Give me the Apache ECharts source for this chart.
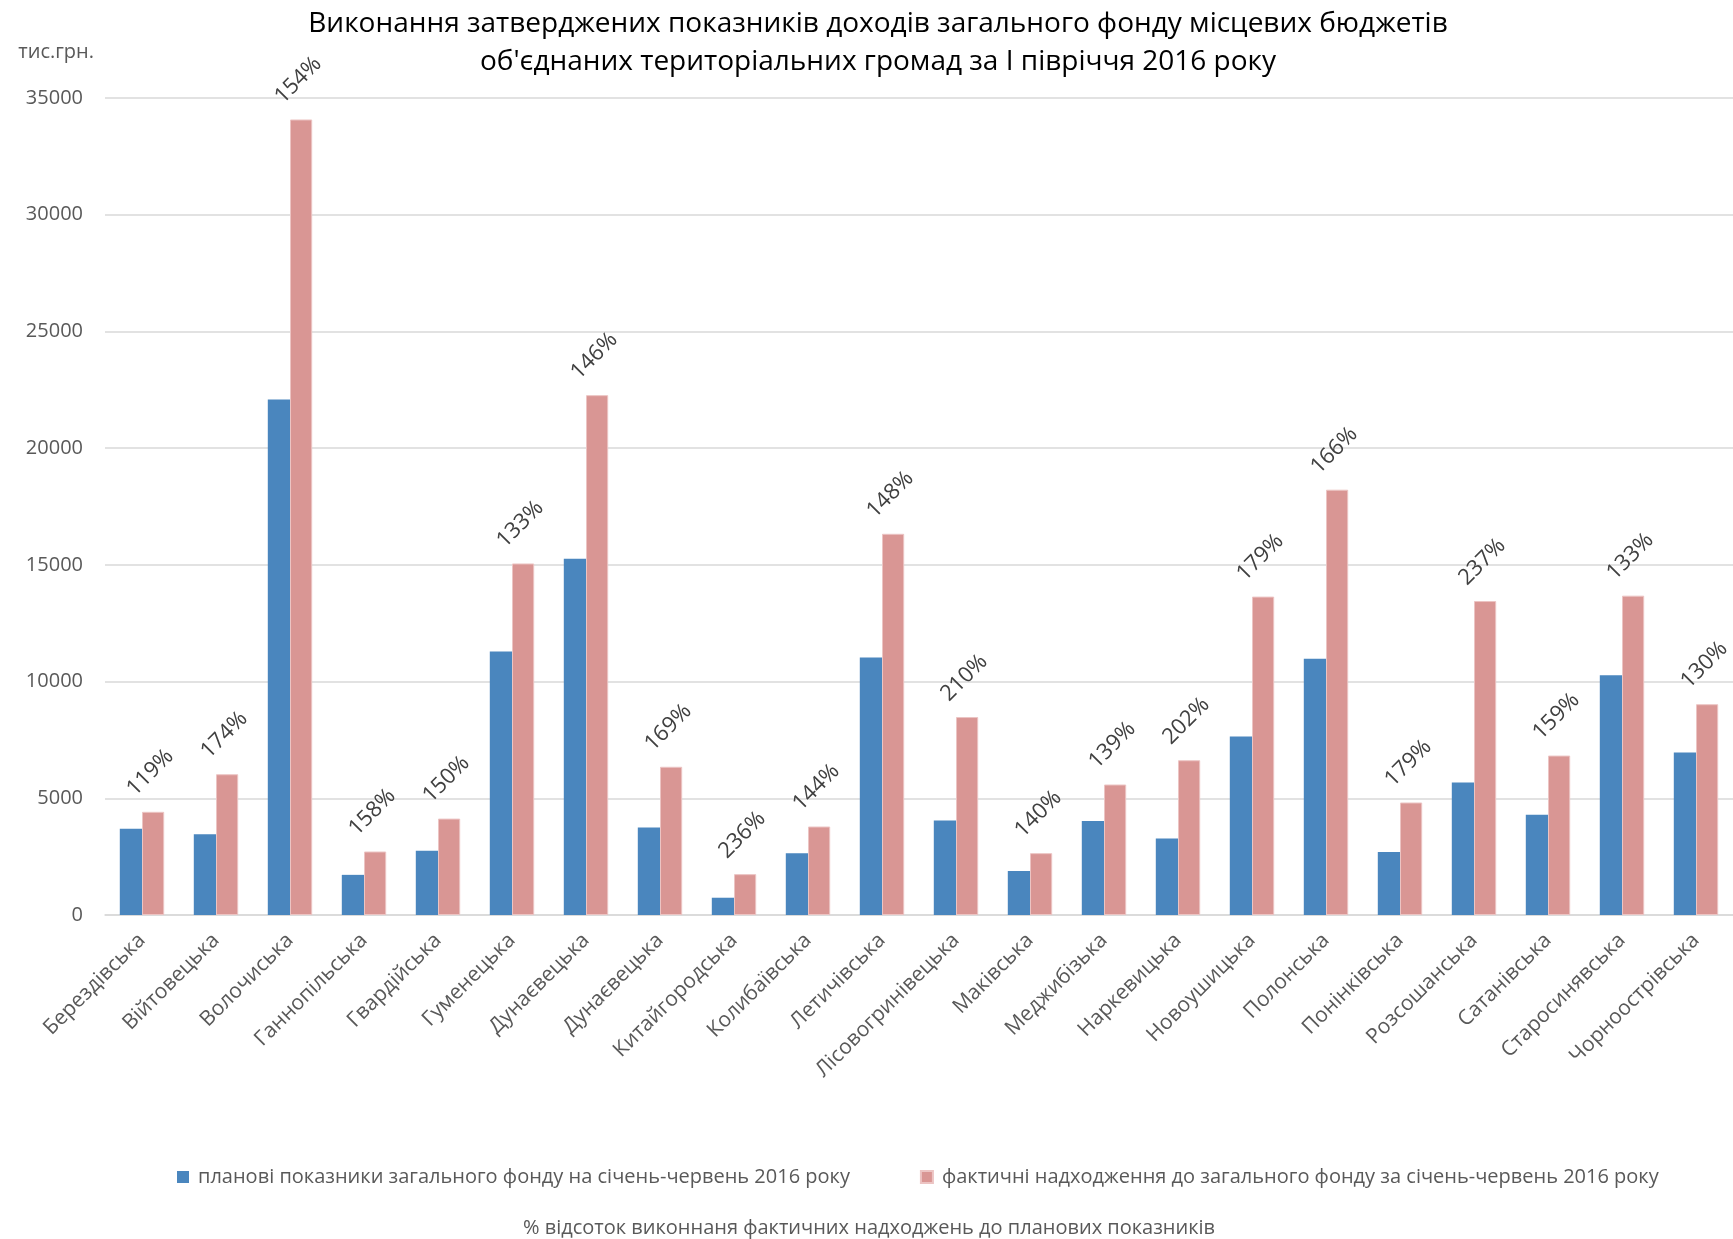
<!DOCTYPE html>
<html>
<head>
<meta charset="utf-8">
<script src="https://cdn.jsdelivr.net/npm/echarts@6/dist/echarts.min.js"></script>
<style>
html,body{margin:0;padding:0;background:#fff;}
#chart{width:1733px;height:1239px;}
</style>
</head>
<body>
<div id="chart"></div>
<script>
const categories = ["Берездівська","Війтовецька","Волочиська","Ганнопільська","Гвардійська","Гуменецька","Дунаєвецька","Дунаєвецька","Китайгородська","Колибаївська","Летичівська","Лісовогринівецька","Маківська","Меджибізька","Наркевицька","Новоушицька","Полонська","Понінківська","Розсошанська","Сатанівська","Старосинявська","Чорноострівська"];
const planned = [3700, 3460, 22080, 1720, 2750, 11290, 15260, 3750, 740, 2640, 11030, 4050, 1890, 4030, 3280, 7650, 10980, 2700, 5680, 4300, 10270, 6960];
const actual = [4420, 6030, 34080, 2720, 4130, 15060, 22270, 6350, 1750, 3790, 16330, 8480, 2650, 5590, 6630, 13640, 18220, 4820, 13450, 6830, 13680, 9030];
const percentLabels = ["119%","174%","154%","158%","150%","133%","146%","169%","236%","144%","148%","210%","140%","139%","202%","179%","166%","179%","237%","159%","133%","130%"];
const yTicks = [0, 35000, 5000];
const seriesNames = ["планові показники загального фонду на січень-червень 2016 року","фактичні надходження до загального фонду за січень-червень 2016 року","% відсоток виконнаня фактичних надходжень до планових показників"];

const FONT = "Open Sans";
const chart = echarts.init(document.getElementById('chart'));
chart.setOption({
  animation: false,
  backgroundColor: '#fff',
  textStyle: {fontFamily: FONT},
  title: {
    text: "Виконання затверджених показників доходів загального фонду місцевих бюджетів\nоб'єднаних територіальних громад за І півріччя 2016 року",
    left: 873, top: 0, textAlign: 'center',
    textStyle: {fontFamily: FONT, fontSize: 28, fontWeight: 'normal', color: '#000', lineHeight: 38, align: 'center'}
  },
  grid: {left: 105, right: 0, top: 98, bottom: 324, containLabel: false},
  legend: [{
    data: [seriesNames[0], seriesNames[1]],
    left: 172, top: 1162, icon: 'rect', itemWidth: 12, itemHeight: 12, itemGap: 70,
    textStyle: {fontFamily: FONT, fontSize: 20, color: '#595959', padding: [0, 0, 0, 4]}
  },{
    data: [seriesNames[2]],
    left: 'center', top: 1213, icon: 'none', itemWidth: 0, itemGap: 0,
    textStyle: {fontFamily: FONT, fontSize: 20, color: '#595959'}
  }],
  xAxis: {
    type: 'category', data: categories,
    axisTick: {show: false},
    axisLine: {lineStyle: {color: '#d9d9d9', width: 1.5}},
    axisLabel: {rotate: 45, interval: 0, margin: 22, fontFamily: FONT, fontSize: 21, color: '#595959'}
  },
  yAxis: {
    type: 'value', min: yTicks[0], max: yTicks[1], interval: yTicks[2],
    name: 'тис.грн.', nameLocation: 'end', nameGap: 36,
    nameTextStyle: {fontFamily: FONT, fontSize: 20, color: '#595959', align: 'right', padding: [0, 11, 0, 0]},
    axisLine: {show: false}, axisTick: {show: false},
    splitLine: {lineStyle: {color: '#d9d9d9', width: 1.5}},
    axisLabel: {margin: 22, fontFamily: FONT, fontSize: 20, color: '#595959', formatter: function (v) { return String(v); }}
  },
  series: [{
    name: seriesNames[0], type: 'bar', data: planned,
    barGap: '0%', barCategoryGap: '40%',
    itemStyle: {color: '#4a86be'}
  },{
    name: seriesNames[1], type: 'bar', data: actual,
    barGap: '0%', barCategoryGap: '40%',
    itemStyle: {color: '#d99694', borderColor: '#ecc4c3', borderWidth: 1},
    label: {
      show: true, position: 'top', distance: 42, rotate: 45,
      align: 'center', verticalAlign: 'middle', offset: [-4, 0],
      fontFamily: FONT, fontSize: 22, color: '#404040',
      formatter: function (p) { return percentLabels[p.dataIndex]; }
    }
  },{
    name: seriesNames[2], type: 'line', data: [], itemStyle: {color: '#595959'}
  }]
});
</script>
</body>
</html>
